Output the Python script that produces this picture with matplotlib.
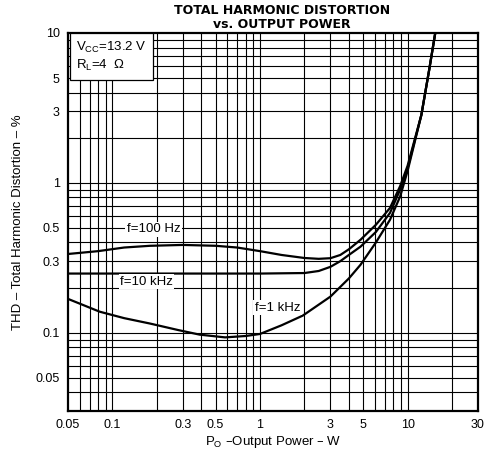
import matplotlib
matplotlib.use("Agg")
import matplotlib.pyplot as plt
from matplotlib.ticker import FixedLocator, NullFormatter, FixedFormatter
import numpy as np

plt.rcParams['font.family'] = ['Liberation Sans', 'DejaVu Sans']

# Data
p_100 = [0.05, 0.08, 0.12, 0.18, 0.3, 0.5, 0.7, 1.0, 1.4, 2.0, 2.5, 3.0, 3.5, 4.0, 4.8, 6.1, 7.6, 8.9, 10, 12.4, 14, 15.4]
t_100 = [0.335, 0.35, 0.37, 0.38, 0.385, 0.38, 0.37, 0.35, 0.33, 0.315, 0.311, 0.314, 0.33, 0.36, 0.417, 0.525, 0.68, 0.95, 1.3, 2.84, 5.66, 10]

p_10k = [0.05, 0.1, 0.3, 1.0, 2.0, 2.5, 3.0, 3.5, 4.0, 4.8, 6.1, 7.6, 8.9, 10, 12.4, 14, 15.4]
t_10k = [0.248, 0.248, 0.248, 0.248, 0.25, 0.258, 0.275, 0.3, 0.33, 0.375, 0.47, 0.63, 0.9, 1.25, 2.84, 5.66, 10]

p_1k = [0.05, 0.082, 0.12, 0.18, 0.28, 0.39, 0.58, 0.8, 1.0, 1.4, 1.95, 3.0, 4.0, 4.8, 6.1, 7.6, 8.9, 10, 12.4, 14, 15.4]
t_1k = [0.168, 0.138, 0.125, 0.115, 0.104, 0.097, 0.093, 0.095, 0.098, 0.112, 0.13, 0.174, 0.23, 0.284, 0.40, 0.567, 0.81, 1.2, 2.84, 5.66, 10]

x_ticks = [0.05, 0.1, 0.3, 0.5, 1, 3, 5, 10, 30]
x_labels = ["0.05", "0.1", "0.3", "0.5", "1", "3", "5", "10", "30"]
y_ticks = [0.05, 0.1, 0.3, 0.5, 1, 3, 5, 10]
y_labels = ["0.05", "0.1", "0.3", "0.5", "1", "3", "5", "10"]

fig = plt.figure(figsize=(4.84, 4.54), dpi=100)
ax = fig.add_axes([68/484, 1-411/454, 410/484, 378/454])
ax.set_xscale('log')
ax.set_yscale('log')
ax.set_xlim(0.05, 30)
ax.set_ylim(0.03, 10)

# grid
xg = [m * 10.0**e for e in range(-2, 2) for m in range(1, 10)]
yg = [m * 10.0**e for e in range(-2, 2) for m in range(1, 10)]
for v in xg:
    if 0.05 < v < 30:
        ax.axvline(v, color='black', lw=0.8, zorder=1)
for v in yg:
    if 0.03 < v < 10:
        ax.axhline(v, color='black', lw=0.8, zorder=1)

ax.plot(p_100, t_100, color='black', lw=1.6, zorder=3)
ax.plot(p_10k, t_10k, color='black', lw=1.6, zorder=3)
ax.plot(p_1k, t_1k, color='black', lw=1.6, zorder=3)

ax.xaxis.set_major_locator(FixedLocator(x_ticks))
ax.xaxis.set_major_formatter(FixedFormatter(x_labels))
ax.xaxis.set_minor_formatter(NullFormatter())
ax.yaxis.set_major_locator(FixedLocator(y_ticks))
ax.yaxis.set_major_formatter(FixedFormatter(y_labels))
ax.yaxis.set_minor_formatter(NullFormatter())
ax.tick_params(which='both', length=0, labelsize=9, pad=6)

for s in ax.spines.values():
    s.set_linewidth(1.6)

bb = dict(facecolor='white', edgecolor='none', pad=1)
ax.text(0.19, 0.49, "f=100 Hz", fontsize=9.5, ha='center', va='center', bbox=bb, zorder=4)
ax.text(0.17, 0.219, "f=10 kHz", fontsize=9.5, ha='center', va='center', bbox=bb, zorder=4)
ax.text(1.31, 0.147, "f=1 kHz", fontsize=9.5, ha='center', va='center', bbox=bb, zorder=4)

ax.text(0.02, 0.982, "V$_{\\mathregular{CC}}$=13.2 V\nR$_{\\mathregular{L}}$=4  Ω", transform=ax.transAxes,
        fontsize=9.5, ha='left', va='top', linespacing=1.3, zorder=5,
        bbox=dict(facecolor='white', edgecolor='black', lw=0.9, boxstyle='square,pad=0.5'))

ax.set_xlabel("P$_{\\mathregular{O}}$ \u2013Output Power \u2013 W", fontsize=9.5, labelpad=2)
ax.set_ylabel("THD \u2013 Total Harmonic Distortion \u2013 %", fontsize=9.5, labelpad=8)
fig.text(282/484, 1-17/454, "TOTAL HARMONIC DISTORTION\nvs. OUTPUT POWER", ha='center', va='center',
         fontsize=9, fontweight='bold', linespacing=1.1, family='DejaVu Sans')

fig.savefig("out.png", dpi=100)
